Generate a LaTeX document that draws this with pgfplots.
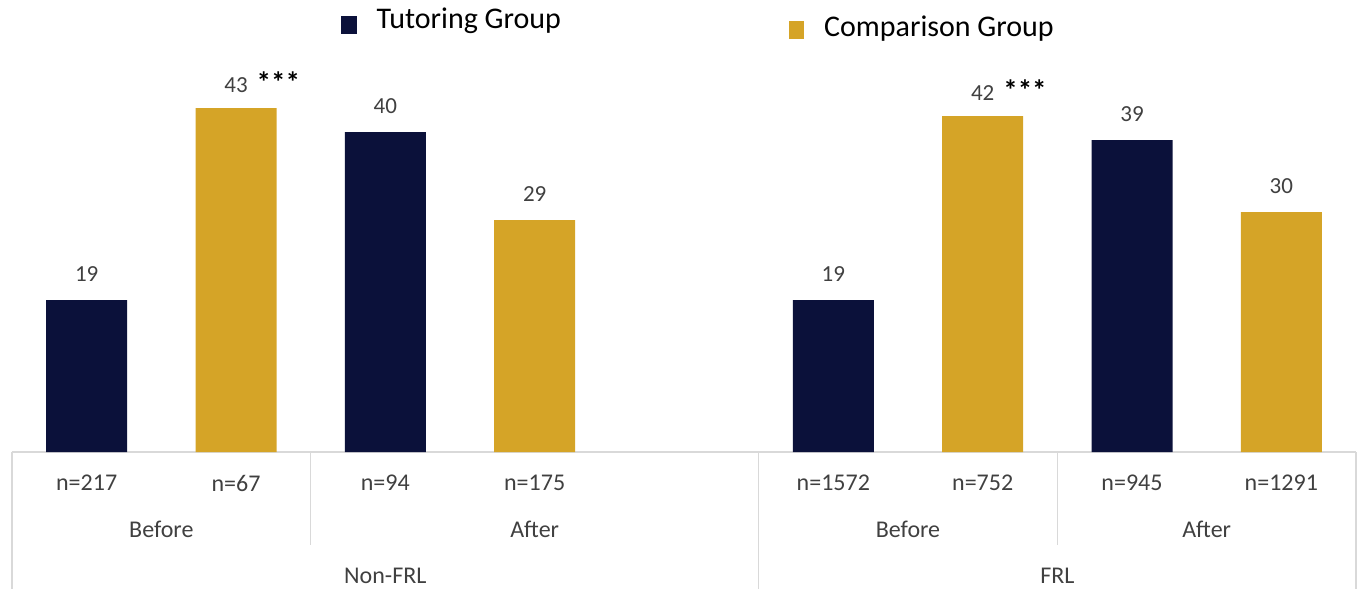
\documentclass[border=0pt]{standalone}
\usepackage{pgfplots}
\pgfplotsset{compat=1.18}
\usepackage{fontspec}
\setmainfont{Carlito}
\definecolor{navy}{RGB}{11,17,58}
\definecolor{gold}{RGB}{213,164,39}
\definecolor{txt}{RGB}{64,64,64}
\definecolor{sep}{RGB}{217,217,217}
\newcommand{\stars}{\rlap{\hspace{4.5pt}\textcolor{black}{\fontsize{14.5}{14}\selectfont\bfseries ***}}}

\begin{document}
\begin{tikzpicture}
\begin{axis}[
  name=ax,
  scale only axis,
  width=672pt, height=200pt,
  xmin=-0.5, xmax=8.5,
  ymin=0, ymax=50,
  hide y axis,
  axis x line*=bottom,
  x axis line style={draw=sep, line width=0.75pt, -},
  xtick={0,1,2,3,5,6,7,8},
  xticklabels={n=217,n=67,n=94,n=175,n=1572,n=752,n=945,n=1291},
  major tick length=0pt,
  xticklabel style={font=\fontsize{12}{14}\selectfont, text=txt, anchor=center, yshift=-15.5pt},
  ybar, bar width=40.5pt,
  clip=false,
  nodes near coords, point meta=explicit symbolic,
  every node near coord/.append style={font=\fontsize{11.5}{13}\selectfont, text=txt, anchor=center, yshift=13pt},
  legend columns=2,
  legend style={at={(0.2448,1.07)}, anchor=west, draw=none, fill=none, inner sep=0pt,
    font=\fontsize{15}{17}\selectfont,
    /tikz/every odd column/.append style={column sep=8pt},
    /tikz/every even column/.append style={column sep=112pt}},
]
\addplot[fill=navy, draw=none, bar shift=0pt, forget plot]
  coordinates {(0,19)[19] (2,40)[40] (5,19)[19] (7,39)[39]};
\addplot[fill=gold, draw=none, bar shift=0pt, forget plot]
  coordinates {(1,43)[43\stars] (3,29)[29] (6,42)[42\stars] (8,30)[30]};
\addlegendimage{legend image code/.code={\fill[navy] (0pt,-5.7pt) rectangle (7.2pt,2.7pt);}}
\addlegendentry[yshift=1pt]{Tutoring Group}
\addlegendimage{legend image code/.code={\fill[gold] (0pt,-8.2pt) rectangle (7.2pt,0.2pt);}}
\addlegendentry[yshift=-3pt, xshift=5.5pt]{Comparison Group}

% category separators
\draw[sep, line width=0.75pt] (axis cs:-0.5,0) -- ([yshift=-68.5pt]axis cs:-0.5,0);
\draw[sep, line width=0.75pt] (axis cs:1.5,0) -- ([yshift=-46.5pt]axis cs:1.5,0);
\draw[sep, line width=0.75pt] (axis cs:4.5,0) -- ([yshift=-68.5pt]axis cs:4.5,0);
\draw[sep, line width=0.75pt] (axis cs:6.5,0) -- ([yshift=-46.5pt]axis cs:6.5,0);
\draw[sep, line width=0.75pt] (axis cs:8.5,0) -- ([yshift=-68.5pt]axis cs:8.5,0);

% group labels
\begin{scope}[every node/.style={font=\fontsize{12}{14}\selectfont, text=txt}]
\node at ([yshift=-38.5pt]axis cs:0.5,0) {Before};
\node at ([yshift=-38.5pt]axis cs:3,0) {After};
\node at ([yshift=-38.5pt]axis cs:5.5,0) {Before};
\node at ([yshift=-38.5pt]axis cs:7.5,0) {After};
\node at ([yshift=-62pt]axis cs:2,0) {Non-FRL};
\node at ([yshift=-62pt]axis cs:6.5,0) {FRL};
\end{scope}
\end{axis}
\pgfresetboundingbox
\path ([xshift=-6pt,yshift=-68.5pt]ax.south west) rectangle ([xshift=2.5pt,yshift=26pt]ax.north east);
\end{tikzpicture}
\end{document}
